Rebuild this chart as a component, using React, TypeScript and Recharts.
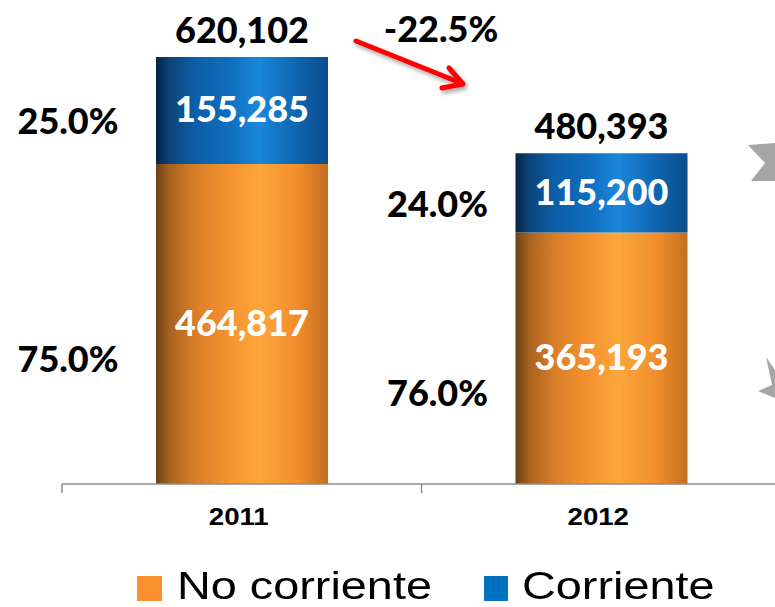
import { BarChart, Bar, XAxis, YAxis, LabelList } from "recharts";

const years = ["2011", "2012"];
const noCorriente = [464817, 365193];
const corriente = [155285, 115200];
const totals = [620102, 480393];
const pctNoCorriente = ["75.0%", "76.0%"];
const pctCorriente = ["25.0%", "24.0%"];
const variation = "-22.5%";

const chartData = years.map((year, i) => ({
  year,
  noCorriente: noCorriente[i],
  corriente: corriente[i],
}));

const fmt = (v: number) => v.toLocaleString("en-US");

const numFont = "Lato, 'Open Sans', sans-serif";
const numWeight = 900;
const arialFont = "'Liberation Sans', Arial, sans-serif";
// left-side % labels sit a bit closer to the second bar
const pctDx = [-88, -78];

const OrangeLabel = (props: any) => {
  const { x, y, width, height, index } = props;
  const cx = x + width / 2;
  const cy = y + height / 2;
  return (
    <g>
      <text x={cx} y={cy + 12} textAnchor="middle" fill="#fff" fontFamily={numFont} fontWeight={numWeight} fontSize={36}>
        {fmt(noCorriente[index])}
      </text>
      <text x={x + pctDx[index]} y={cy + 48} textAnchor="middle" fill="#000" fontFamily={numFont} fontWeight={numWeight} fontSize={36}>
        {pctNoCorriente[index]}
      </text>
    </g>
  );
};

const BlueLabel = (props: any) => {
  const { x, y, width, height, index } = props;
  const cx = x + width / 2;
  const cy = y + height / 2;
  return (
    <g>
      <text x={cx} y={cy + 12} textAnchor="middle" fill="#fff" fontFamily={numFont} fontWeight={numWeight} fontSize={36}>
        {fmt(corriente[index])}
      </text>
      <text x={x + pctDx[index]} y={cy + 24} textAnchor="middle" fill="#000" fontFamily={numFont} fontWeight={numWeight} fontSize={36}>
        {pctCorriente[index]}
      </text>
      <text x={cx} y={y - 14} textAnchor="middle" fill="#000" fontFamily={numFont} fontWeight={numWeight} fontSize={36}>
        {fmt(totals[index])}
      </text>
    </g>
  );
};

const YearTick = (props: any) => {
  const { x, y, payload, index } = props;
  const off = payload && payload.offset ? payload.offset : 178;
  const last = index === years.length - 1;
  return (
    <g>
      <line x1={x - off} x2={x - off} y1={y} y2={y + 9} stroke="#8c8c8c" strokeWidth={1.5} />
      {last && <line x1={x + off} x2={x + off} y1={y} y2={y + 9} stroke="#8c8c8c" strokeWidth={1.5} />}
      <text
        transform={`translate(${x - 3},${y + 41}) scale(1.15,1)`}
        textAnchor="middle"
        fill="#000"
        fontFamily={arialFont}
        fontWeight={700}
        fontSize={24}
      >
        {payload.value}
      </text>
    </g>
  );
};

export default function App() {
  return (
    <div style={{ position: "absolute", left: 0, top: 0, width: 775, height: 607, background: "#fff", overflow: "hidden" }}>
      <BarChart width={775} height={607} data={chartData} margin={{ top: 2, right: -6, left: 62, bottom: 63 }} barSize={172}>
        <defs>
          <linearGradient id="gradOrange" x1="0" y1="0" x2="1" y2="0">
            <stop offset="0%" stopColor="#6a4018" />
            <stop offset="8%" stopColor="#a8621f" />
            <stop offset="22%" stopColor="#d67d28" />
            <stop offset="42%" stopColor="#f5922f" />
            <stop offset="60%" stopColor="#fca63b" />
            <stop offset="82%" stopColor="#f28e2c" />
            <stop offset="100%" stopColor="#c46e20" />
          </linearGradient>
          <linearGradient id="gradBlue" x1="0" y1="0" x2="1" y2="0">
            <stop offset="0%" stopColor="#062443" />
            <stop offset="8%" stopColor="#0a4479" />
            <stop offset="22%" stopColor="#0c5ea6" />
            <stop offset="42%" stopColor="#0f6dbd" />
            <stop offset="60%" stopColor="#1b87db" />
            <stop offset="82%" stopColor="#0e64ae" />
            <stop offset="100%" stopColor="#0a4e8c" />
          </linearGradient>
        </defs>
        <XAxis
          dataKey="year"
          axisLine={{ stroke: "#8c8c8c", strokeWidth: 1.5 }}
          tickLine={false}
          tickSize={0}
          tickMargin={0}
          height={60}
          tick={<YearTick />}
          interval={0}
        />
        <YAxis hide domain={[0, 700000]} />
        <Bar dataKey="noCorriente" stackId="a" fill="url(#gradOrange)" isAnimationActive={false}>
          <LabelList dataKey="noCorriente" content={<OrangeLabel />} />
        </Bar>
        <Bar dataKey="corriente" stackId="a" fill="url(#gradBlue)" isAnimationActive={false}>
          <LabelList dataKey="corriente" content={<BlueLabel />} />
        </Bar>
      </BarChart>

      <svg width={775} height={607} style={{ position: "absolute", left: 0, top: 0, pointerEvents: "none" }}>
        <defs>
          <filter id="shadow" x="-20%" y="-20%" width="140%" height="140%">
            <feDropShadow dx="2" dy="3" stdDeviation="2" floodColor="#000" floodOpacity="0.35" />
          </filter>
        </defs>
        <text x={441} y={42} textAnchor="middle" fill="#000" fontFamily={numFont} fontWeight={numWeight} fontSize={36}>
          {variation}
        </text>
        <g filter="url(#shadow)" stroke="#ff0000" strokeWidth={5} strokeLinecap="round" strokeLinejoin="round" fill="none">
          <line x1={356} y1={41} x2={461} y2={83} />
          <polyline points="449,68 463,84 442,88" />
        </g>
        <polygon points="748,145 775,143 775,181 751,181 765,163" fill="#a6a6a6" />
        <polygon points="766,357 775,370 775,398 758,391 772,385" fill="#a6a6a6" />
      </svg>

      <div style={{ position: "absolute", left: 137, top: 576, width: 25, height: 25, background: "#fb902d" }} />
      <div
        style={{
          position: "absolute", left: 177, top: 564, fontFamily: arialFont, fontSize: 39, lineHeight: "44px",
          color: "#000", transform: "scale(1.2,1)", transformOrigin: "left top", whiteSpace: "nowrap",
        }}
      >
        No corriente
      </div>
      <div style={{ position: "absolute", left: 484, top: 576, width: 24, height: 25, background: "#0070c0" }} />
      <div
        style={{
          position: "absolute", left: 522, top: 564, fontFamily: arialFont, fontSize: 39, lineHeight: "44px",
          color: "#000", transform: "scale(1.2,1)", transformOrigin: "left top", whiteSpace: "nowrap",
        }}
      >
        Corriente
      </div>
    </div>
  );
}
